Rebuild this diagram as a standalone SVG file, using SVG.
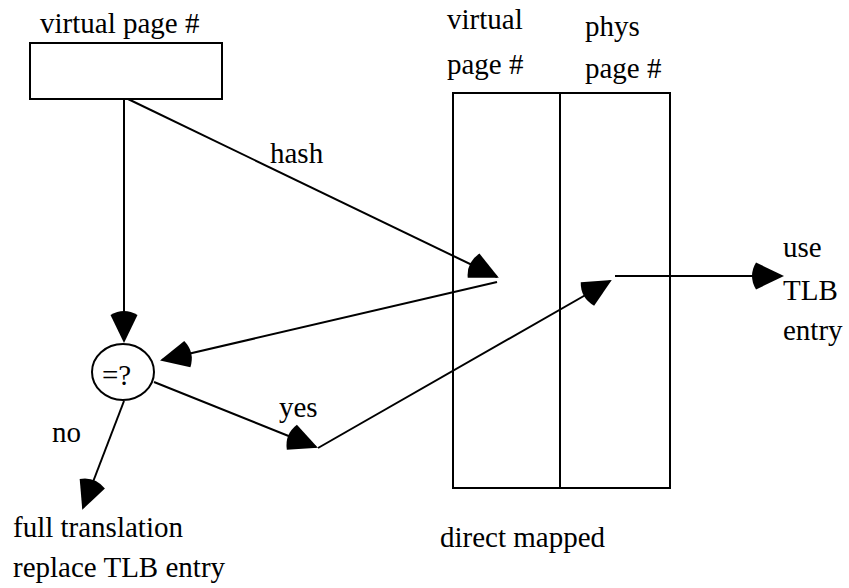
<svg xmlns="http://www.w3.org/2000/svg" width="849" height="588" viewBox="0 0 849 588">
<style>
.s{fill:none;stroke:#000;stroke-width:2}
</style>
<defs>
<marker id="ah" markerUnits="userSpaceOnUse" viewBox="-36 -16 40 32" markerWidth="40" markerHeight="32" refX="0" refY="0" orient="auto">
<path d="M2,0 L-26,-13.5 Q-34,0 -26,13.5 Z" fill="#000"/>
</marker>
</defs>
<rect width="849" height="588" fill="#fff"/>
<g font-family="Liberation Serif, Times New Roman, serif" font-size="29" fill="#000">
<g id="vpn-box">
<text x="40" y="33">virtual page #</text>
<rect class="s" x="30" y="43" width="192" height="56"/>
</g>
<g id="tlb-table">
<text x="447" y="29">virtual</text>
<text x="447" y="74">page #</text>
<text x="585" y="36">phys</text>
<text x="585" y="78">page #</text>
<rect class="s" x="453" y="93" width="217" height="395"/>
<line class="s" x1="560" y1="93" x2="560" y2="488"/>
<text x="440" y="547">direct mapped</text>
</g>
<g id="compare">
<ellipse class="s" cx="123" cy="372" rx="31" ry="28"/>
<text x="102" y="385">=?</text>
</g>
<g id="use-entry">
<text x="783" y="257">use</text>
<text x="783" y="300">TLB</text>
<text x="783" y="340">entry</text>
</g>
<g id="full-translation">
<text x="13" y="537">full translation</text>
<text x="13" y="577">replace TLB entry</text>
</g>
<g id="connectors">
<g fill="none" stroke="#000" stroke-width="2" marker-end="url(#ah)">
<line x1="124" y1="99" x2="124" y2="341"/>
<line x1="128" y1="99" x2="497" y2="277"/>
<line x1="497" y1="282" x2="162" y2="360"/>
<line x1="154" y1="382" x2="316" y2="447"/>
<line x1="318" y1="448" x2="610" y2="281"/>
<line x1="615" y1="276" x2="782" y2="276"/>
<line x1="124" y1="401" x2="83" y2="508"/>
</g>
<text x="270" y="163">hash</text>
<text x="279" y="417">yes</text>
<text x="52" y="442">no</text>
</g>
</g>
</svg>
